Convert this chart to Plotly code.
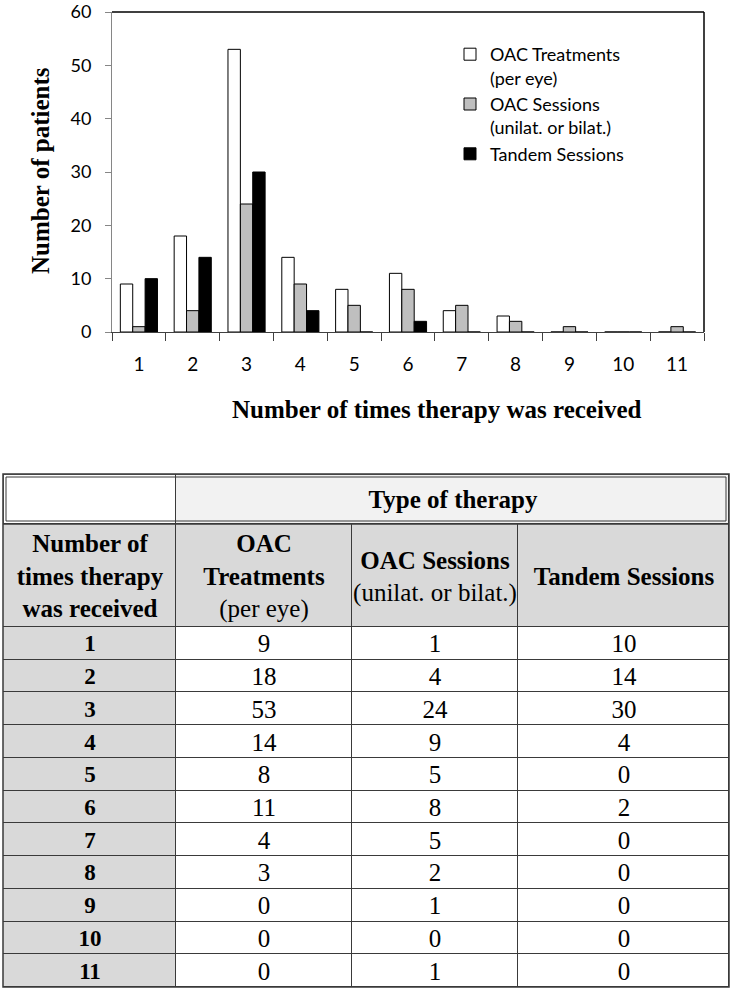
import plotly.graph_objects as go

# ---- data ----
times_received = ["1", "2", "3", "4", "5", "6", "7", "8", "9", "10", "11"]
oac_treatments = [9, 18, 53, 14, 8, 11, 4, 3, 0, 0, 0]
oac_sessions = [1, 4, 24, 9, 5, 8, 5, 2, 1, 0, 1]
tandem_sessions = [10, 14, 30, 4, 0, 2, 0, 0, 0, 0, 0]
series_names = ["OAC Treatments<br>(per eye)", "OAC Sessions<br>(unilat. or bilat.)", "Tandem Sessions"]
y_ticks = [0, 10, 20, 30, 40, 50, 60]
table_group_title = "Type of therapy"
table_col_titles = [
    "<b>Number of<br>times therapy<br>was received</b>",
    "<b>OAC<br>Treatments</b><br>(per eye)",
    "<b>OAC Sessions</b><br>(unilat. or bilat.)",
    "<b>Tandem Sessions</b>",
]

W, H = 732, 990
SERIF = "Liberation Serif"
SANS = "Lato"

def px_x(p):
    return p / W

def px_y(p):
    return 1 - p / H

fig = go.Figure()
fills = ["white", "#bfbfbf", "black"]
for name, vals, col in zip(series_names, [oac_treatments, oac_sessions, tandem_sessions], fills):
    fig.add_trace(go.Bar(
        x=times_received, y=vals, name=name,
        marker=dict(color=col, line=dict(color="black", width=1)),
        xaxis="x", yaxis="y",
    ))

# ---- table drawn as heatmap bricks on its own axes (units = pixels) ----
TOP_H, HEAD_H, ROW_H = 50, 103, 32.73
TABLE_W = 726
col_edges = [0, 173, 349, 515, TABLE_W]
n_rows = len(times_received)
table_h = TOP_H + HEAD_H + ROW_H * n_rows
row_edges = [TOP_H + HEAD_H + ROW_H * i for i in range(n_rows + 1)]

colorscale = [[0, "white"], [0.5, "#f2f2f2"], [1, "#d9d9d9"]]
common = dict(texttemplate="%{text}", colorscale=colorscale, zmin=0, zmax=2, showscale=False,
              xgap=1, ygap=1, hoverinfo="skip", xaxis="x2", yaxis="y2", showlegend=False)

# top header row (merged "Type of therapy")
fig.add_trace(go.Heatmap(
    x=[0, col_edges[1], TABLE_W], y=[0, TOP_H],
    z=[[0, 1]], text=[["", "<b>%s</b>" % table_group_title]],
    textfont=dict(family=SERIF, size=25, color="black"), **common))

# column header row
fig.add_trace(go.Heatmap(
    x=col_edges, y=[TOP_H, TOP_H + HEAD_H],
    z=[[2, 2, 2, 2]], text=[table_col_titles],
    textfont=dict(family=SERIF, size=25, color="black"), **common))

# row-label column
fig.add_trace(go.Heatmap(
    x=col_edges[:2], y=row_edges,
    z=[[2] for _ in times_received], text=[["<b>%s</b>" % t] for t in times_received],
    textfont=dict(family=SERIF, size=23, color="black"), **common))

# data cells
fig.add_trace(go.Heatmap(
    x=col_edges[1:], y=row_edges,
    z=[[0, 0, 0] for _ in times_received],
    text=[[str(a), str(b), str(c)] for a, b, c in zip(oac_treatments, oac_sessions, tandem_sessions)],
    textfont=dict(family=SERIF, size=25, color="black"), **common))

hidden = dict(showgrid=False, showticklabels=False, zeroline=False, showline=False,
              ticks="", fixedrange=True, automargin=False)

fig.update_layout(
    width=W, height=H,
    margin=dict(l=0, r=0, t=0, b=0, pad=0, autoexpand=False),
    paper_bgcolor="white", plot_bgcolor="white",
    barmode="group", bargap=0.31, bargroupgap=0,
    showlegend=True,
    legend=dict(x=px_x(450), y=px_y(36), xanchor="left", yanchor="top",
                font=dict(family=SANS, size=18, color="black"),
                valign="top", traceorder="normal", bgcolor="rgba(0,0,0,0)"),
    xaxis=dict(domain=[px_x(112), px_x(704)], type="category", anchor="y",
               showline=True, linecolor="#404040", linewidth=1,
               ticks="outside", tickson="boundaries", ticklen=8, tickcolor="#404040",
               ticklabelstandoff=15, automargin=False,
               tickfont=dict(family=SANS, size=19, color="black"),
               showgrid=False, fixedrange=True),
    yaxis=dict(domain=[px_y(332), px_y(12)], range=[0, 60], anchor="x",
               tickvals=y_ticks, ticklabeloverflow="allow",
               showline=True, linecolor="#868686", linewidth=1,
               ticks="outside", ticklen=6, tickcolor="#868686",
               ticklabelstandoff=10, automargin=False,
               tickfont=dict(family=SANS, size=18, color="black"),
               showgrid=False, zeroline=False, fixedrange=True),
    xaxis2=dict(domain=[px_x(3), px_x(3 + TABLE_W)], range=[0, TABLE_W], anchor="y2", **hidden),
    yaxis2=dict(domain=[px_y(474 + table_h), px_y(474)], range=[table_h, 0], anchor="x2", **hidden),
    shapes=[
        # plot-area border (top / right)
        dict(type="line", xref="x domain", yref="y domain", x0=0, x1=1, y0=1, y1=1,
             line=dict(color="black", width=1.5)),
        dict(type="line", xref="x domain", yref="y domain", x0=1, x1=1, y0=0, y1=1,
             line=dict(color="black", width=1.5)),
        # table grid background (shows through the brick gaps)
        dict(type="rect", xref="x2 domain", yref="y2 domain", x0=0, x1=1, y0=0, y1=1,
             fillcolor="#3a3a3a", line=dict(width=0), layer="below"),
        # table outer border
        dict(type="rect", xref="x2 domain", yref="y2 domain", x0=0, x1=1, y0=0, y1=1,
             line=dict(color="#3a3a3a", width=1.5), layer="above"),
        # double rule around the top header row
        dict(type="rect", xref="x2", yref="y2", x0=0, x1=TABLE_W, y0=0, y1=TOP_H,
             line=dict(color="#3a3a3a", width=1.5), layer="above"),
        dict(type="rect", xref="x2", yref="y2", x0=3, x1=TABLE_W - 3, y0=3, y1=TOP_H - 3,
             line=dict(color="#3a3a3a", width=1), layer="above"),
    ],
    annotations=[
        dict(text="<b>Number of patients</b>", x=px_x(40), y=px_y(171), xref="paper", yref="paper",
             textangle=-90, showarrow=False, xanchor="center", yanchor="middle",
             font=dict(family=SERIF, size=25, color="black")),
        dict(text="<b>Number of times therapy was received</b>", x=px_x(437), y=px_y(409),
             xref="paper", yref="paper", showarrow=False, xanchor="center", yanchor="middle",
             font=dict(family=SERIF, size=25, color="black")),
    ],
)

fig.write_html("out.html", config={"displayModeBar": False},
               post_script="document.body.style.margin='0';")
